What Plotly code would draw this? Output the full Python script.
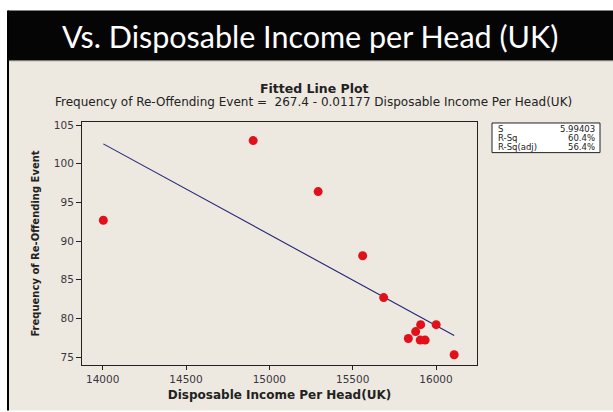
import plotly.graph_objects as go

# Observations: disposable income per head (UK) vs re-offending frequency
income = [14004, 14903, 15293, 15560, 15686, 15908, 16001, 15878, 15834, 15905, 15935, 16109]
frequency = [92.7, 103.0, 96.4, 88.1, 82.7, 79.2, 79.2, 78.3, 77.4, 77.2, 77.2, 75.3]

# Regression results
intercept = 267.4
slope = -0.01177
stat_names = ["S", "R-Sq", "R-Sq(adj)"]
stat_values = ["5.99403", "60.4%", "56.4%"]

x_ticks = [14000, 14500, 15000, 15500, 16000]
y_ticks = [75, 80, 85, 90, 95, 100, 105]

W, H = 613, 412
L, R, T, B = 82, 477, 122, 368  # plot area in pixels


def px(x):
    return (x - L) / (R - L)


def py(y):
    return (B - y) / (B - T)


fit_x = [min(income), max(income)]
fit_y = [intercept + slope * v for v in fit_x]

fig = go.Figure()
fig.add_trace(go.Scatter(x=fit_x, y=fit_y, mode="lines",
                         line=dict(color="#23237a", width=1.1),
                         hoverinfo="skip", showlegend=False))
fig.add_trace(go.Scatter(x=income, y=frequency, mode="markers",
                         marker=dict(color="#e2101a", size=9, line=dict(width=0)),
                         showlegend=False))

cream = "#ede9e0"
shapes = [
    # cream panel
    dict(type="rect", xref="paper", yref="paper", x0=px(8), x1=px(W + 2), y0=py(H + 2), y1=py(60),
         fillcolor=cream, line=dict(width=0), layer="below"),
    # black title band
    dict(type="rect", xref="paper", yref="paper", x0=px(8), x1=px(W + 2), y0=py(60), y1=py(9),
         fillcolor="#050505", line=dict(width=0), layer="below"),
    dict(type="line", xref="paper", yref="paper", x0=px(8), x1=px(W + 2), y0=py(60), y1=py(60),
         line=dict(color="#8a8a84", width=1), layer="below"),
    # left frame line
    dict(type="line", xref="paper", yref="paper", x0=px(8), x1=px(8), y0=py(9), y1=py(H + 2),
         line=dict(color="#000000", width=2), layer="below"),
    # statistics box
    dict(type="rect", xref="paper", yref="paper", x0=px(492), x1=px(600), y0=py(153), y1=py(123),
         fillcolor="#ffffff", line=dict(color="#222222", width=1)),
]

stat_font = dict(family="DejaVu Sans", size=8.5, color="#222222")
annotations = [
    dict(text="Vs. Disposable Income per Head (UK)", xref="paper", yref="paper",
         x=px(310), y=py(35), xanchor="center", yanchor="middle", showarrow=False,
         font=dict(family="Lato", size=30.5, color="#ffffff")),
    dict(text="<b>Fitted Line Plot</b>", xref="paper", yref="paper",
         x=px(314), y=py(88), xanchor="center", yanchor="middle", showarrow=False,
         font=dict(family="DejaVu Sans", size=12.5, color="#222222")),
    dict(text="Frequency of Re-Offending Event =  %.1f - %.5f Disposable Income Per Head(UK)" % (intercept, -slope),
         xref="paper", yref="paper",
         x=px(313), y=py(102), xanchor="center", yanchor="middle", showarrow=False,
         font=dict(family="DejaVu Sans", size=12, color="#222222")),
]
row_y = [129, 138.5, 147.5]
for name, val, yy in zip(stat_names, stat_values, row_y):
    annotations.append(dict(text=name, xref="paper", yref="paper", x=px(496), y=py(yy),
                            xanchor="left", yanchor="middle", showarrow=False, font=stat_font))
    annotations.append(dict(text=val, xref="paper", yref="paper", x=px(597), y=py(yy),
                            xanchor="right", yanchor="middle", showarrow=False, font=stat_font))

tick_font = dict(family="DejaVu Sans", size=10.5, color="#3a3640")
fig.update_layout(
    width=W, height=H,
    margin=dict(l=L, r=W - R, t=T, b=H - B, pad=0),
    paper_bgcolor="#ffffff", plot_bgcolor="#ffffff",
    shapes=shapes, annotations=annotations,
    xaxis=dict(range=[13876, 16246], tickvals=x_ticks, ticktext=[str(v) for v in x_ticks],
               showgrid=False, zeroline=False, showline=True, linecolor="#222222", linewidth=1,
               mirror=True, ticks="outside", ticklen=4, tickcolor="#222222",
               tickfont=tick_font,
               title=dict(text="<b>Disposable Income Per Head(UK)</b>", standoff=7,
                          font=dict(family="DejaVu Sans", size=12, color="#222222"))),
    yaxis=dict(range=[73.98, 105.4], tickvals=y_ticks, ticktext=[str(v) for v in y_ticks],
               showgrid=False, zeroline=False, showline=True, linecolor="#222222", linewidth=1,
               mirror=True, ticks="outside", ticklen=5, tickcolor="#222222",
               tickfont=tick_font,
               title=dict(text="<b>Frequency of Re-Offending Event</b>", standoff=12,
                          font=dict(family="DejaVu Sans", size=10, color="#222222"))),
)

fig.write_html("out.html")
